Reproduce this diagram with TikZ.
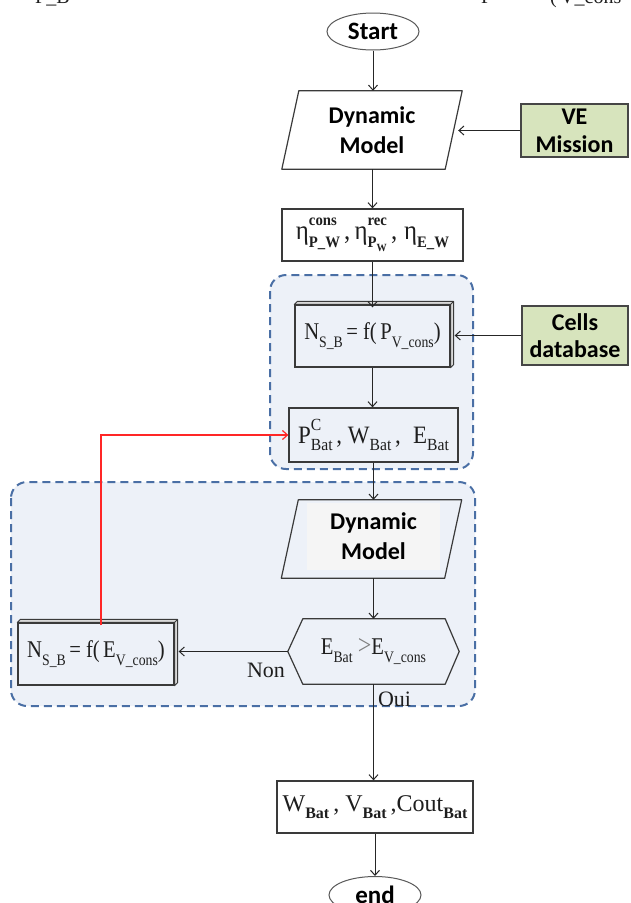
\documentclass[tikz,border=0pt]{standalone}
\usepackage{fontspec}
\usepackage{graphicx}
\usetikzlibrary{arrows.meta,shapes.geometric}
\newfontfamily\calib{Carlito}
\newfontfamily\timesf{Liberation Serif}

\definecolor{regionfill}{HTML}{EDF1F8}
\definecolor{regionline}{HTML}{4A6FA5}
\definecolor{greenfill}{HTML}{D7E4BD}
\definecolor{boxline}{HTML}{3A3A3A}
\definecolor{inkred}{HTML}{FF2626}
\definecolor{ink}{HTML}{1E1E1E}

% formula pieces set in text: lowered, raised and stacked indices
\newcommand{\lo}[2][16]{\raisebox{-0.3em}{\fontsize{#1}{#1}\selectfont #2}}
\newcommand{\hi}[2][16]{\raisebox{0.5em}{\fontsize{#1}{#1}\selectfont #2}}
\newcommand{\hilo}[3][15]{\setbox0\hbox{\hi[#1]{#2}}\setbox2\hbox{\lo[#1]{#3}}%
  \ifdim\wd0>\wd2 \rlap{\box2}\box0\else\rlap{\box0}\box2\fi}
\newcommand{\fm}[2][0.86]{\scalebox{#1}[1]{#2}}
% raised edge on the top and right of a node
\newcommand{\bevel}[1]{%
  \draw[boxline, line width=0.9pt, fill=gray!30, line join=round]
    (#1.north west) -- ++(3,-3) -- ([shift={(3,-3)}]#1.north east)
    -- ([shift={(3,-3)}]#1.south east) -- (#1.south east) -- (#1.north east) -- cycle;
  \draw[boxline, line width=0.9pt] (#1.north east) -- ++(3,-3);}
% slanted data box drawn over the bounds of a node
\newcommand{\slantbox}[2]{%
  \draw[boxline, line width=1.2pt, fill=#2, line join=round]
    (#1.south west) -- ([xshift=17pt]#1.north west) -- (#1.north east)
    -- ([xshift=-17pt]#1.south east) -- cycle;}

\begin{document}
\begin{tikzpicture}[x=1pt, y=-1pt,
  region/.style={draw=regionline, line width=2pt, dash pattern=on 8pt off 5pt,
    fill=regionfill, rounded corners=16pt},
  flowbox/.style={rectangle, draw=boxline, line width=1.3pt, inner sep=0pt,
    text=ink, font=\timesf\fontsize{24}{28}\selectfont},
  term/.style={ellipse, draw=gray!70!black, line width=1pt, fill=white,
    minimum width=92pt, minimum height=37pt, inner sep=0pt,
    font=\calib\bfseries\fontsize{25}{28}\selectfont},
  bounds/.style={rectangle, minimum width=180pt, minimum height=78pt, inner sep=0pt},
  modeltext/.style={rectangle, inner sep=0pt, align=center,
    font=\calib\bfseries\fontsize{24}{30}\selectfont},
  source/.style={rectangle, draw=gray!55!black, line width=1.2pt, fill=greenfill,
    inner sep=0pt, align=center, font=\calib\bfseries\fontsize{24}{28}\selectfont},
  flow/.style={draw=black!85, line width=1pt, -{Straight Barb[length=5pt,width=9pt]}},
  loopback/.style={draw=inkred, line width=1.2pt, -{Straight Barb[length=5pt,width=9pt]}},
  answer/.style={inner sep=0pt, text=ink, font=\timesf\fontsize{22}{26}\selectfont},
  clipped/.style={anchor=base west, inner sep=0pt, text=ink,
    font=\timesf\fontsize{20}{24}\selectfont}]

\useasboundingbox (0,0) rectangle (630,903);
\clip (0,0) rectangle (630,903);

% text line running above the chart
\node[clipped] (topa) at (35,3) {P\_B};
\node[clipped] (topb) at (481,3) {P};
\node[clipped] (topc) at (550,3) {(\,V\_cons};

% dashed groups
\draw[region] (270,275) rectangle (473,469);
\draw[region] (11,482) rectangle (475,706);

% main column
\node[term] (start) at (373,31.5) {Start};

\node[bounds] (dm1) at (372,130) {};
\slantbox{dm1}{white}
\node[modeltext] (dm1text) at (dm1) {Dynamic\\Model};

\node[source, minimum width=107pt, minimum height=53pt] (ve) at (574.5,130.5) {VE\\Mission};
\node[flowbox, fill=white, minimum width=181pt, minimum height=52pt,
  font=\timesf\fontsize{27}{30}\selectfont] (eta) at (372.5,235)
  {\fm[0.92]{η\hilo[16]{\bfseries cons}{\bfseries P\_W}\,,\,η\hilo[16]{\bfseries rec}{\bfseries P\lo[11]{W}}\,,\;η\lo[16]{\bfseries E\_W}}};
\node[flowbox, fill=regionfill, minimum width=155pt, minimum height=62pt] (nup) at (372.5,336)
  {\fm{N\lo{S\_B}\,= f(\,P\lo{V\_cons})}};
\bevel{nup}
\node[source, minimum width=106pt, minimum height=59pt, font=\calib\bfseries\fontsize{24}{27}\selectfont] (cells) at (575,335.5) {Cells\\database};
\node[flowbox, fill=regionfill, minimum width=169pt, minimum height=54pt,
  font=\timesf\fontsize{25}{28}\selectfont] (pbat) at (373.5,435)
  {\fm[0.92]{P\hilo[17]{C}{Bat}\,, W\lo[17]{Bat}\,,\; E\lo[17]{Bat}}};

\node[bounds] (dm2) at (371.5,539) {};
\slantbox{dm2}{regionfill}
\node[modeltext, fill=gray!8, minimum width=133pt, minimum height=67pt] (dm2text) at (373.5,536.5) {Dynamic\\Model};

% decision hexagon
\node[rectangle, minimum width=171pt, minimum height=65pt, inner sep=0pt] (hex) at (373.5,651.5) {};
\draw[boxline, line width=1.2pt, fill=regionfill, line join=round]
  (hex.west) -- ([xshift=15pt]hex.north west) -- ([xshift=-14pt]hex.north east)
  -- (hex.east) -- ([xshift=-14pt]hex.south east) -- ([xshift=15pt]hex.south west) -- cycle;
\node[rectangle, inner sep=0pt, text=ink, font=\timesf\fontsize{24}{28}\selectfont] (hextext) at (hex)
  {\fm{E\lo{Bat}\ \textcolor{gray}{\fontsize{28}{28}\selectfont >}E\lo{V\_cons}}};

\node[flowbox, fill=regionfill, minimum width=156pt, minimum height=62pt] (nlow) at (96,654)
  {\fm{N\lo{S\_B}\,= f(\,E\lo{V\_cons})}};
\bevel{nlow}

\node[flowbox, fill=white, minimum width=196pt, minimum height=52pt] (wbat) at (375,807)
  {W\lo[16]{\bfseries Bat}\,, V\lo[16]{\bfseries Bat}\,,Cout\lo[16]{\bfseries Bat}};
\node[term] (end) at (375,895) {end};

% connectors
\draw[flow] (start.south) -- (start.south |- dm1.north);
\draw[flow] (ve.west) -- ([xshift=-4pt]ve.west -| dm1.east);
\draw[flow] (dm1.south -| eta.north) -- (eta.north);
\draw[flow] (eta.south) -- ([yshift=-3pt]eta.south |- nup.north);
\draw[flow] (cells.west) -- ([xshift=4pt]cells.west -| nup.east);
\draw[flow] (nup.south) -- (nup.south |- pbat.north);
\draw[flow] (pbat.south) -- (pbat.south |- dm2.north);
\draw[flow] (dm2.south -| hex.north) -- (hex.north);
\draw[flow] (hex.west) -- ([xshift=4pt]hex.west -| nlow.east) node[answer, pos=0.2, below=11pt] (non) {Non};
\draw[loopback] ([xshift=5pt,yshift=-3pt]nlow.north) |- (pbat.west);
\draw[flow] (hex.south) -- (hex.south |- wbat.north) node[answer, pos=0.16, right=4pt] (oui) {Oui};
\draw[flow] (wbat.south) -- (wbat.south |- end.north);
\end{tikzpicture}
\end{document}
